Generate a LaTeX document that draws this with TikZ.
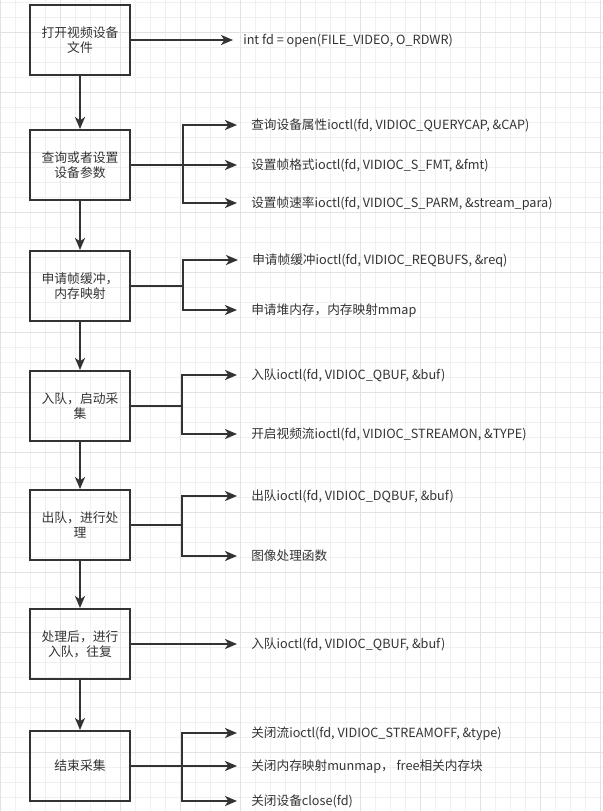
\documentclass[tikz,border=0pt]{standalone}
\usepackage{fontspec}
\setmainfont{Noto Sans CJK SC}
\usetikzlibrary{arrows.meta}
\definecolor{ink}{HTML}{333333}
\definecolor{gridminor}{HTML}{F0F0F0}
\definecolor{gridmajor}{HTML}{E2E2E2}
\tikzset{
    block/.style = {draw=ink, line width=1.5pt, rectangle, align=center,
        minimum height=52.5pt,
        minimum width=75pt, text=ink, font=\fontsize{9.6pt}{11.25pt}\selectfont},
    call/.style = {anchor=west, inner sep=0pt, text=ink,
        text height=8.4pt, text depth=1.3pt, font=\fontsize{9.5pt}{11.25pt}\selectfont},
    arrow/.style = {draw=ink, line width=1.5pt, -{Stealth[length=9pt,width=7.5pt,inset=2.5pt]}},
    callarrow/.style = {arrow, shorten >=10.5pt},
    wire/.style = {draw=ink, line width=1.5pt}
}

\begin{document}
\begin{tikzpicture}[x=0.75pt, y=-0.75pt]
    \useasboundingbox (0,0) rectangle (603,811);
    % background grid
    \foreach \gx in {0,15,...,600} \draw[gridminor, line width=0.75pt] (\gx,0) -- (\gx,811);
    \foreach \gy in {2,17,...,811} \draw[gridminor, line width=0.75pt] (0,\gy) -- (603,\gy);
    \foreach \gx in {0,60,...,600} \draw[gridmajor, line width=0.75pt] (\gx,0) -- (\gx,811);
    \foreach \gy in {32,92,...,811} \draw[gridmajor, line width=0.75pt] (0,\gy) -- (603,\gy);

    % steps
    \node[block] (open) at (80,40) {打开视频设备\\文件};
    \node[block] (setup) at (80,165) {查询或者设置\\设备参数};
    \node[block] (reqbuf) at (80,286) {申请帧缓冲，\\内存映射};
    \node[block] (start) at (80,406) {入队，启动采\\集};
    \node[block] (dequeue) at (80,525) {出队，进行处\\理};
    \node[block] (requeue) at (80,644) {处理后，进行\\入队，往复};
    \node[block] (stop) at (80,766) {结束采集};

    \draw[arrow] (open) -- (setup);
    \draw[arrow] (setup) -- (reqbuf);
    \draw[arrow] (reqbuf) -- (start);
    \draw[arrow] (start) -- (dequeue);
    \draw[arrow] (dequeue) -- (requeue);
    \draw[arrow] (requeue) -- (stop);

    % calls
    \node[call] (openCall) at (243,40) {int fd = open(FILE\_VIDEO, O\_RDWR)};
    \node[call] (capCall) at (251,125) {查询设备属性ioctl(fd, VIDIOC\_QUERYCAP, \&CAP)};
    \node[call] (fmtCall) at (251,165) {设置帧格式ioctl(fd, VIDIOC\_S\_FMT, \&fmt)};
    \node[call] (parmCall) at (251,203) {设置帧速率ioctl(fd, VIDIOC\_S\_PARM, \&stream\_para)};
    \node[call] (reqCall) at (252,260) {申请帧缓冲ioctl(fd, VIDIOC\_REQBUFS, \&req)};
    \node[call] (mmapCall) at (251,310) {申请堆内存，内存映射mmap};
    \node[call] (qbufCall) at (251,375) {入队ioctl(fd, VIDIOC\_QBUF, \&buf)};
    \node[call] (onCall) at (251,434) {开启视频流ioctl(fd, VIDIOC\_STREAMON, \&TYPE)};
    \node[call] (dqbufCall) at (251,496) {出队ioctl(fd, VIDIOC\_DQBUF, \&buf)};
    \node[call] (procCall) at (251,556) {图像处理函数};
    \node[call] (qbufCallB) at (251,644) {入队ioctl(fd, VIDIOC\_QBUF, \&buf)};
    \node[call] (offCall) at (251,733) {关闭流ioctl(fd, VIDIOC\_STREAMOFF, \&type)};
    \node[call] (unmapCall) at (251,766) {关闭内存映射munmap， free相关内存块};
    \node[call] (closeCall) at (251,801) {关闭设备close(fd)};

    \coordinate (jSetup) at (183,165);
    \coordinate (jReqbuf) at (183,286);
    \coordinate (jStart) at (182,406);
    \coordinate (jDequeue) at (182,525);
    \coordinate (jStop) at (182,766);

    \draw[callarrow, shorten >=7.5pt] (open) -- (openCall);

    \draw[callarrow] (setup) -- (fmtCall);
    \draw[callarrow] (jSetup) |- (capCall);
    \draw[callarrow] (jSetup) |- (parmCall);

    \draw[wire] (reqbuf) -- (jReqbuf);
    \draw[callarrow] (jReqbuf) |- (reqCall);
    \draw[callarrow] (jReqbuf) |- (mmapCall);

    \draw[wire] (start) -- (jStart);
    \draw[callarrow] (jStart) |- (qbufCall);
    \draw[callarrow] (jStart) |- (onCall);

    \draw[wire] (dequeue) -- (jDequeue);
    \draw[callarrow] (jDequeue) |- (dqbufCall);
    \draw[callarrow] (jDequeue) |- (procCall);

    \draw[callarrow] (requeue) -- (qbufCallB);

    \draw[callarrow] (stop) -- (unmapCall);
    \draw[callarrow] (jStop) |- (offCall);
    \draw[callarrow] (jStop) |- (closeCall);
\end{tikzpicture}
\end{document}
